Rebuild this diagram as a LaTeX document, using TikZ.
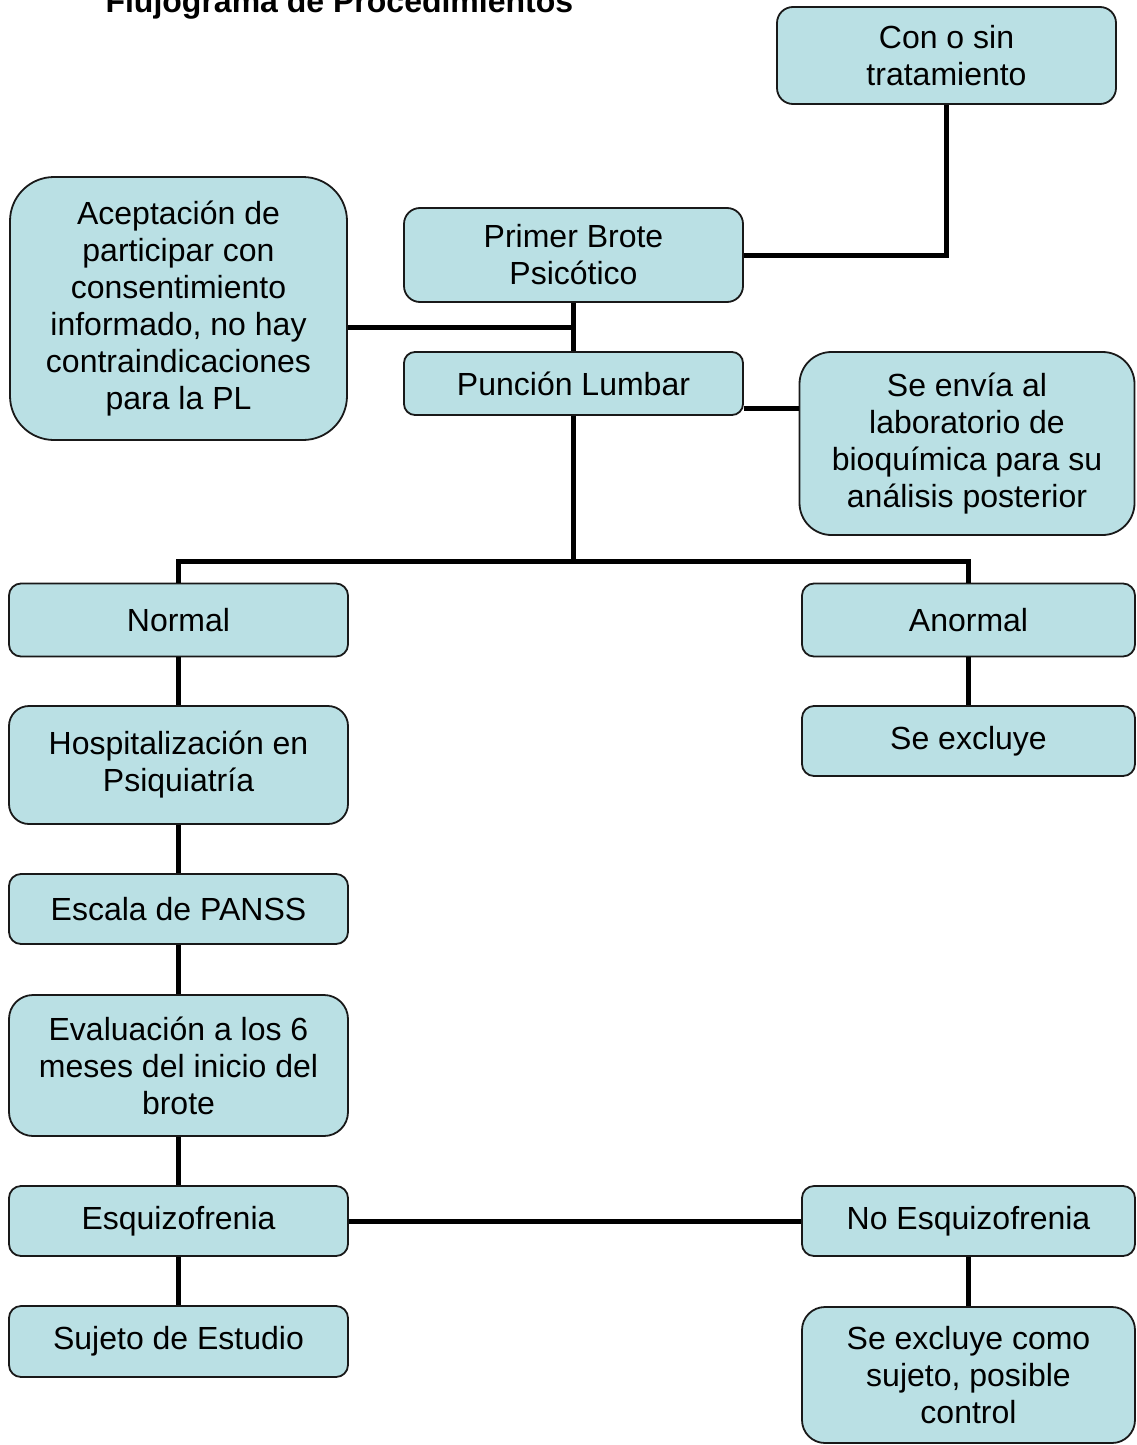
\documentclass[tikz,border=0pt]{standalone}
\usepackage{fontspec}
\setmainfont{Liberation Sans}
\definecolor{boxfill}{RGB}{186,224,228}
\definecolor{boxline}{RGB}{25,25,25}
\begin{document}
\begin{tikzpicture}[x=1pt,y=-1pt,
  pbox/.style={draw=boxline, line width=1.8pt, fill=boxfill, inner sep=0pt,
    align=center, font=\fontsize{32}{37}\selectfont, rounded corners=#1},
  conn/.style={draw=black, line width=5pt}]
\useasboundingbox (0,0) rectangle (1137,1445);
\node[anchor=base west, font=\bfseries\fontsize{32}{37}\selectfont] (title) at (102,13) {Flujograma de Procedimientos};

\node[pbox=16pt, minimum width=339pt, minimum height=97pt] (con) at (946.5,55.5) {Con o sin\\tratamiento};
\node[pbox=44pt, minimum width=337pt, minimum height=263pt] (acep) at (178.5,308.5) {Aceptación de\\participar con\\consentimiento\\informado, no hay\\contraindicaciones\\para la PL};
\node[pbox=16pt, minimum width=339pt, minimum height=94pt] (primer) at (573.5,255) {Primer Brote\\Psicótico};
\node[pbox=11pt, minimum width=339pt, minimum height=63pt] (puncion) at (573.5,383.5) {Punción Lumbar};
\node[pbox=32pt, minimum width=335pt, minimum height=183pt] (envia) at (967,443.5) {Se envía al\\laboratorio de\\bioquímica para su\\análisis posterior};
\node[pbox=12pt, minimum width=339pt, minimum height=73pt] (normal) at (178.5,620) {Normal};
\node[pbox=12pt, minimum width=333pt, minimum height=73pt] (anormal) at (968.5,620) {Anormal};
\node[pbox=12pt, minimum width=333pt, minimum height=70pt] (sex) at (968.5,741) {Se excluye};
\node[pbox=20pt, minimum width=339pt, minimum height=118pt] (hosp) at (178.5,765) {Hospitalización en\\Psiquiatría};
\node[pbox=12pt, minimum width=339pt, minimum height=70pt] (escala) at (178.5,909) {Escala de PANSS};
\node[pbox=24pt, minimum width=339pt, minimum height=141pt] (eval) at (178.5,1065.5) {Evaluación a los 6\\meses del inicio del\\brote};
\node[pbox=12pt, minimum width=339pt, minimum height=70pt] (esq) at (178.5,1221) {Esquizofrenia};
\node[pbox=12pt, minimum width=333pt, minimum height=70pt] (noesq) at (968.5,1221) {No Esquizofrenia};
\node[pbox=12pt, minimum width=339pt, minimum height=71pt] (sujeto) at (178.5,1341.5) {Sujeto de Estudio};
\node[pbox=23pt, minimum width=333pt, minimum height=136pt] (sexc) at (968.5,1375) {Se excluye como\\sujeto, posible\\control};

\coordinate (j1) at (573.5,327);
\coordinate (j2) at (771,408);
\coordinate (bus) at (573.5,561);

\begin{scope}[on background layer/.style={}]
\end{scope}
\path[conn] (primer.east) -| (con.south);
\path[conn] (primer.south) -- (puncion.north);
\path[conn] (acep.east |- j1) -- (j1);
\path[conn] (puncion.east |- j2) -- (envia.west |- j2);
\path[conn] (puncion.south) -- (bus);
\path[conn] (normal.north) |- (bus) -| (anormal.north);
\path[conn] (anormal.south) -- (sex.north);
\path[conn] (normal.south) -- (hosp.north);
\path[conn] (hosp.south) -- (escala.north);
\path[conn] (escala.south) -- (eval.north);
\path[conn] (eval.south) -- (esq.north);
\path[conn] (esq.south) -- (sujeto.north);
\path[conn] (esq.east) -- (noesq.west);
\path[conn] (noesq.south) -- (sexc.north);
\end{tikzpicture}
\end{document}
